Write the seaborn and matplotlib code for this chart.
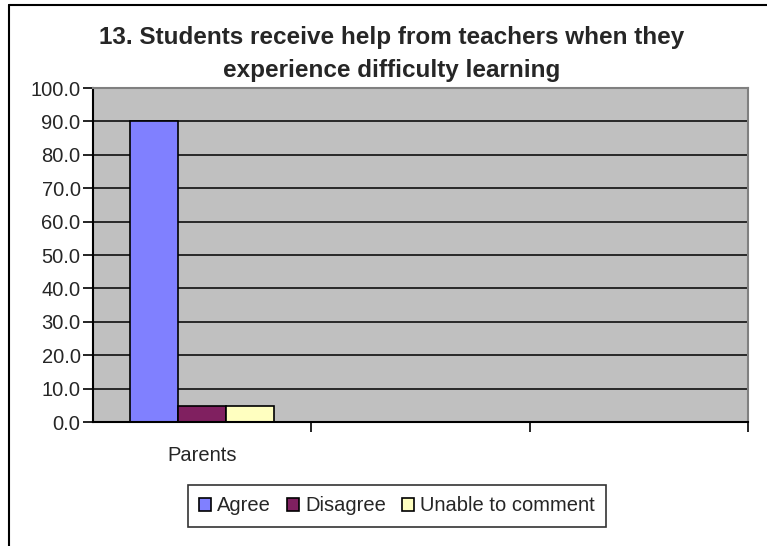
import matplotlib
matplotlib.use("Agg")
import matplotlib.pyplot as plt
import seaborn as sns
import pandas as pd
from matplotlib.lines import Line2D

# data
groups = ["Parents", "", " "]
responses = ["Agree", "Disagree", "Unable to comment"]
values = [90.2, 4.9, 4.9]
colors = ["#8080FF", "#802060", "#FFFFC0"]
yticks = [0, 10, 20, 30, 40, 50, 60, 70, 80, 90, 100]
title = "13. Students receive help from teachers when they\nexperience difficulty learning"

df = pd.DataFrame({"group": [groups[0]] * len(responses),
                   "response": responses,
                   "pct": values})

sns.set_style("white")
plt.rcParams["font.family"] = ["Liberation Sans", "DejaVu Sans"]

fig = plt.figure(figsize=(7.67, 5.46), dpi=100)
ax = fig.add_axes([0.1213, 0.2271, 0.8539, 0.6117])
ax.set_facecolor("#C0C0C0")

sns.barplot(data=df, x="group", y="pct", hue="response", order=groups,
            hue_order=responses, palette=colors, width=0.66,
            edgecolor="black", linewidth=1.2, saturation=1, ax=ax)

ax.set_xlim(-0.5, 2.5)
ax.set_ylim(0, 100)
ax.set_xlabel("")
ax.set_ylabel("")

# y axis
ax.set_yticks(yticks, [f"{v:.1f}" for v in yticks])
ax.tick_params(axis="y", which="major", left=True, length=7, width=1.2,
               direction="out", pad=2, labelsize=14.5, color="black")
ax.set_axisbelow(True)
ax.yaxis.grid(True, color="black", linewidth=1.1)
ax.yaxis.get_gridlines()[-1].set_visible(False)

# x axis: labels at centres, tick marks on category boundaries
ax.set_xticks([0, 1, 2], groups)
ax.set_xticks([0.5, 1.5, 2.5], minor=True)
ax.tick_params(axis="x", which="major", bottom=True, length=0, pad=17,
               labelsize=14.5)
ax.tick_params(axis="x", which="minor", bottom=True, length=7, width=1.2,
               direction="out", color="black")

for side in ["left", "bottom"]:
    ax.spines[side].set_color("black")
    ax.spines[side].set_linewidth(1.5)
for side in ["top", "right"]:
    ax.spines[side].set_color("#808080")
    ax.spines[side].set_linewidth(1.5)

# legend
handles, labels = ax.get_legend_handles_labels()
ax.legend_.remove()
leg = ax.legend(handles, labels, loc="center", bbox_to_anchor=(0.5176, 0.0733),
                bbox_transform=fig.transFigure, ncol=3, frameon=True,
                fancybox=False, edgecolor="black", handlelength=0.6,
                handleheight=0.6, handletextpad=0.3, columnspacing=0.8,
                borderpad=0.55, fontsize=14.5)
leg.get_frame().set_linewidth(1.2)

fig.text(0.511, 1 - 54 / 546, title, ha="center", va="center",
         fontsize=17.5, fontweight="bold", linespacing=1.55)

# outer chart frame (left and top edges visible)
fig.add_artist(Line2D([8.5 / 767, 8.5 / 767], [0, 1 - 4.5 / 546],
                      color="black", linewidth=1.5, transform=fig.transFigure))
fig.add_artist(Line2D([8.5 / 767, 1], [1 - 4.5 / 546, 1 - 4.5 / 546],
                      color="black", linewidth=1.5, transform=fig.transFigure))

fig.savefig("out.png", dpi=100)
